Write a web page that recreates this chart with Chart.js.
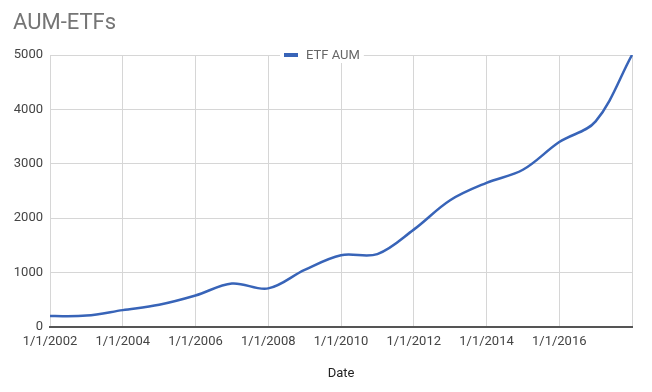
<!DOCTYPE html>
<html>
<head>
<meta charset="utf-8">
<script src="https://cdn.jsdelivr.net/npm/chart.js@4"></script>
<style>
  html, body { margin: 0; padding: 0; background: #fff; }
  #wrap { width: 652px; height: 392px; }
</style>
</head>
<body>
<div id="wrap"><canvas id="aum-Chart"></canvas></div>
<script>
// -------------------- DATA --------------------

// One point per year, 1/1/2002 .. 1/1/2018
const dates = [
  "1/1/2002", "1/1/2003", "1/1/2004", "1/1/2005", "1/1/2006", "1/1/2007",
  "1/1/2008", "1/1/2009", "1/1/2010", "1/1/2011", "1/1/2012", "1/1/2013",
  "1/1/2014", "1/1/2015", "1/1/2016", "1/1/2017", "1/1/2018",
];
const etfAum = [
  200, 210, 310, 410, 580, 800, 710, 1050, 1320, 1340, 1790, 2330,
  2650, 2890, 3400, 3780, 5000,
];
const yTicks = [0, 1000, 2000, 3000, 4000, 5000];

const chartTitle = "AUM-ETFs";
const seriesName = "ETF AUM";
const xTitle = "Date";

const lineColor = "#3864b8";
const gridColor = "#d6d6d6";
const font = "Roboto";

// -------------------- TITLE + LEGEND (Google style) --------------------

// Title at top-left, legend sitting on the top gridline
const headerPlugin = {
  id: "header",
  afterDraw(chart) {
    const c = chart.ctx;
    const top = chart.chartArea.top;
    c.save();
    c.font = "22px " + font;
    c.fillStyle = "#757575";
    c.textBaseline = "middle";
    c.fillText(chartTitle, 13, 23);

    // legend
    c.font = "13px " + font;
    const tw = c.measureText(seriesName).width;
    const lx = 284;
    c.fillStyle = "#fff";
    c.fillRect(lx - 4, top - 8, 14 + 8 + tw + 8, 16);
    c.fillStyle = lineColor;
    c.fillRect(lx, top - 2, 14, 4);
    c.fillStyle = "#666";
    c.fillText(seriesName, lx + 22, top + 1);
    c.restore();
  },
};

// -------------------- CHART --------------------

const ctx = document.getElementById("aum-Chart");

new Chart(ctx, {
  type: "line",
  data: {
    labels: dates,
    datasets: [
      {
        label: seriesName,
        data: etfAum,
        borderColor: lineColor,
        backgroundColor: lineColor,
        borderWidth: 2.5,
        pointRadius: 0,
        tension: 0.35,
        fill: false,
      },
    ],
  },
  options: {
    responsive: true,
    maintainAspectRatio: false,
    animation: false,
    layout: { padding: { top: 55, right: 20, left: 0, bottom: 0 } },
    plugins: {
      legend: { display: false },
      title: { display: false },
      tooltip: { enabled: false },
    },
    scales: {
      x: {
        type: "category",
        offset: false,
        afterFit: (s) => (s.height = 65),
        grid: {
          drawTicks: false,
          color: (g) => (g.index % 2 === 0 ? gridColor : "rgba(0,0,0,0)"),
        },
        border: { display: true, color: "#555", width: 2 },
        ticks: {
          autoSkip: false,
          maxRotation: 0,
          padding: 7,
          color: "#444",
          font: { family: font, size: 13 },
          callback: function (v, i) {
            return i % 2 === 0 && i < dates.length - 1 ? this.getLabelForValue(v) : "";
          },
        },
        title: {
          display: true,
          text: xTitle,
          color: "#222",
          font: { family: font, size: 13 },
          padding: { top: 0, bottom: 10 },
        },
      },
      y: {
        min: yTicks[0],
        max: yTicks[yTicks.length - 1],
        afterFit: (s) => (s.width = 50),
        afterBuildTicks: (s) => (s.ticks = yTicks.map((v) => ({ value: v }))),
        grid: {
          drawTicks: false,
          color: (g) => (g.tick && g.tick.value === 0 ? "rgba(0,0,0,0)" : gridColor),
        },
        border: { display: false },
        ticks: {
          padding: 7,
          color: "#444",
          font: { family: font, size: 13 },
          callback: (v) => String(v),
        },
      },
    },
  },
  plugins: [headerPlugin],
});
</script>
</body>
</html>
